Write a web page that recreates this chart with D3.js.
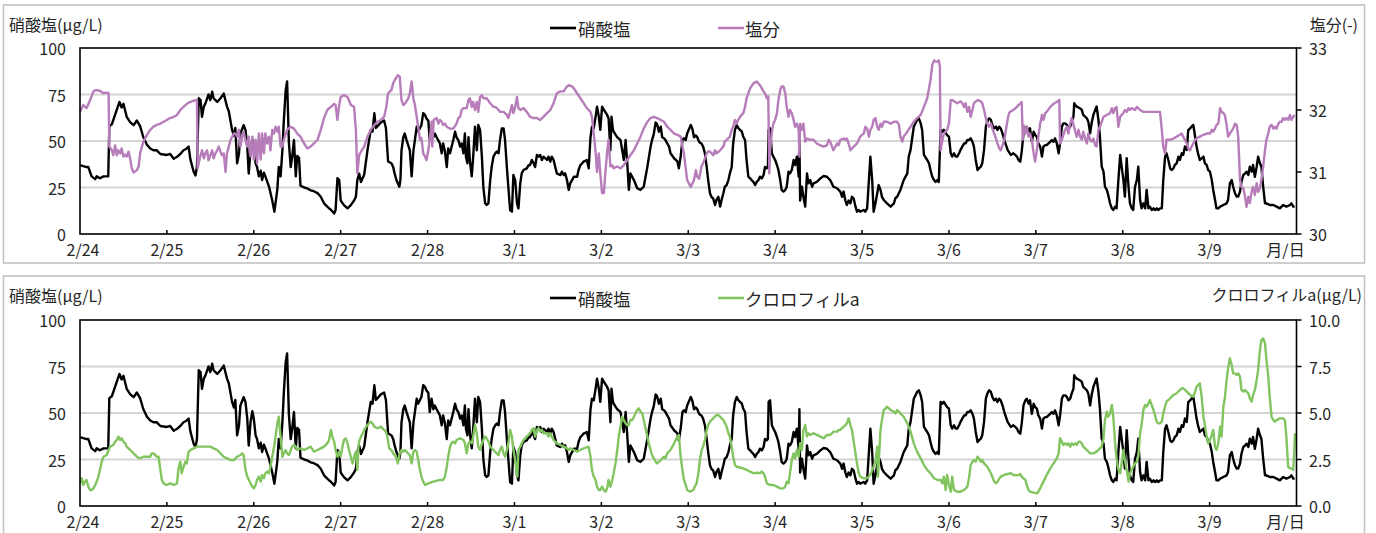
<!DOCTYPE html>
<html><head><meta charset="utf-8">
<script src="https://cdn.jsdelivr.net/npm/d3@7"></script>
<style>
body{margin:0;background:#fff;}
svg{display:block;}
text{font-family:"Noto Sans CJK JP","Noto Sans",sans-serif;fill:#262626;}
</style>
</head><body>
<svg id="c" width="1376" height="533"></svg>
<script>
// ---------- data (hours since 2/24 00:00, value) ----------
const dayLabels = ["2/24","2/25","2/26","2/27","2/28","3/1","3/2","3/3","3/4","3/5","3/6","3/7","3/8","3/9","月/日"];
const nitrateTicks = [0,25,50,75,100];
const salinityTicks = [30,31,32,33];
const chlTicks = [0,2.5,5,7.5,10];

const nitrate = [
[0,37],[1.8,36],[2.3,36],[3.2,31],[4.2,29.5],[4.6,31],[5.5,30],[6.5,31],[7.8,31],[8.1,58],[8.8,59],[10.2,67],[10.9,71],[11.5,68],[12,70],[12.9,63],[13.9,60],[14.8,58.5],[15.7,61],[16.6,58],[17.5,52],[18.5,48],[19.4,46],[20.3,45],[21.2,45],[22.2,43],[24,42.5],[24.9,43],[25.9,40.5],[26.8,41.5],[27.7,43],[28.6,45],[29.5,46],[30,47],[30.5,40],[31.4,33.5],[31.9,31.5],[32.3,36],[32.8,73],[33.3,72],[33.7,63],[34.2,68.5],[34.6,70],[35.5,75],[36,72],[36.5,76.5],[36.9,73],[37.9,71],[38.8,73],[39.7,75.5],[40.6,68.5],[41.1,66],[42,56],[42.5,53],[42.9,57],[43.4,38],[43.9,43],[44.3,54],[45.2,58.5],[45.7,56],[46.2,47],[46.6,32.5],[47.1,45],[47.6,51],[48,47],[48.5,38],[48.9,36],[49.4,31],[49.9,34],[50.3,29],[50.8,33],[51.2,31],[52.2,25.5],[53.1,18],[53.7,12],[54.5,24],[54.9,36],[55.4,31],[55.9,45],[56.3,61],[56.8,77],[57.2,82],[57.7,49],[58.2,36],[58.6,41.5],[59.1,50.5],[59.6,31],[60,42],[60.5,41],[60.9,26],[61.9,25],[62.8,24.5],[63.7,23.5],[64.6,23],[65.6,22],[66.5,20],[67.4,16.5],[68.3,14.7],[69.3,13],[70.2,11],[70.6,13],[71.1,30],[71.6,29],[72,18],[72.9,15.5],[73.9,13.8],[74.8,15.5],[75.7,18],[76.2,20],[76.6,29],[77.1,32.5],[77.6,28],[78.5,32],[79.4,45],[80.3,56],[80.8,55],[81.3,65],[81.7,57],[82.2,58],[83.1,60],[84,61],[84.5,57],[85.1,39],[86,38],
[86.5,36],[86.9,32.6],[87.4,29],[88.2,25.4],[88.5,29],[88.8,45],[89.3,52],[89.7,54],[90.2,50.5],[90.6,48],[91.1,45],[91.6,31],[92.1,45],[92.5,50.5],[93,57.7],[93.4,55],[94.3,58.6],[94.8,65],[95.3,64],[95.7,62],[96.2,61],[96.6,50.5],[97.1,57.7],[97.6,52],[98,54],[98.5,52],[99.4,48.7],[99.9,43.4],[100.3,48.7],[100.8,44.3],[101.3,36],[101.7,46],[102.2,43.4],[103.1,50.5],[103.6,55],[104,52],[104.5,50.5],[105,47],[105.4,48.7],[105.9,43.4],[106.3,54],[106.6,41.6],[107,38],[107.3,52],[107.7,39],[108.2,31],[108.6,41.6],[109.1,57.7],[109.6,45],[110,58.6],[110.5,56],[111,41.6],[111.4,25.4],[111.9,16.5],[112.3,15.6],[112.8,16.5],[113.3,29],[113.7,36],[114.2,41.6],[114.7,43.4],[115.1,44.3],[115.6,43.4],[116,50.5],[116.5,56.8],[117,56.8],[117.4,50.5],[117.9,36],[118.3,25.4],[118.8,12.9],[119.3,12],[119.7,31.7],[120.2,29],[120.7,16.5],[121.1,13.8],[121.6,27.2],[122,32.6],[122.5,34.4],[123.4,35.3],[123.9,37],[124.3,37],[124.8,39.8],[125.3,38],[125.7,36],[126.2,42.5],[126.7,41.6],[127.1,42.5],[127.6,39.8],[128,41.6],[129,39.8],[129.4,41.6],[129.9,38.9],[130.3,41.6],[130.8,39.8],[131.7,32.6],[132.7,31.7],[133.1,33.5],[133.6,31.7],[134,32.6],[134.5,29],[135,23.7],[135.4,27.2],[135.9,29],[136.4,30.8],[137.3,30.8],[137.7,34.4],[138.2,37],[138.7,38],[139.1,38.9],[140,39.8],[140.5,35.3],[141,52],[141.4,57.7],[141.9,56.8],[142.4,63],[142.8,68.5],[143.3,63],[143.7,56],[144.2,68.5],[144.7,66.7],[145.6,64],[146,62],[146.5,45],[146.8,63],[147.2,56],[147.4,55],[148.4,52],[149.3,50.5],[150.2,39.8],[150.7,50.5],[151.1,39.8],[151.6,23.7],[152,32.6],[153,29],[153.9,24.6],[154.8,23.7],[155.7,25.4],[156.7,36],[157.6,47],[158,50.5],[158.5,54],[159,60],[159.4,59],[159.9,55],[160.4,57.7],[160.8,52],[161.3,51.5],[161.7,50.5],[162.2,48.7],[162.7,47],[163.1,43.4],[164.1,40.7],[165,39],[165.4,35.3],[165.9,41.6],[166.4,50.5],[166.8,51.5],[167.3,50.5],[167.7,54],[168.7,58.6],[169.1,56.8],[169.6,52],[170.1,53],[170.5,52],[171,49.5],
[171.7,48.5],[172.1,47],[172.6,43.4],[173.1,36],[173.5,29],[174,21.9],[174.4,20],[174.9,19],[175.4,15.6],[175.8,18.3],[176.3,20],[176.8,14.7],[177.2,18.3],[177.7,21.9],[178.1,25.4],[178.6,26.3],[179.1,29],[179.5,32.6],[180,36],[180.4,48.7],[180.9,56],[181.4,58.6],[181.8,57],[182.3,56],[182.8,55],[183.2,52.3],[183.7,50.5],[184.1,39.8],[184.6,30.8],[185.1,29.9],[185.5,29],[186,28],[186.5,26.3],[186.9,28],[187.4,29],[187.8,30.8],[188.3,29.9],[188.8,31.7],[189.2,36],[189.7,35.3],[190,36],[190.2,56],[190.6,56.8],[191.1,43.4],[191.5,41.6],[192,39.8],[192.5,37.1],[192.9,34.4],[193.4,29],[193.8,23.7],[194.3,22.8],[194.8,23.7],[195.2,25.4],[195.7,33.5],[196.1,32.6],[196.6,34.4],[197.1,39.8],[197.5,37.1],[198,41.6],[198.5,30.8],[198.7,52],[198.9,18],[199.4,25.4],[199.8,20],[200.3,14.7],[200.8,32.6],[201.2,27.2],[201.7,29],[202.2,25.4],[202.6,27.2],[203.5,28],[204.5,29.9],[205.4,31.2],[206.3,30.8],[207.2,29],[208.1,25.4],[209.1,24.6],[210,22.8],[210.5,20],[210.9,22.8],[211.4,18],[211.8,15.6],[212.3,18],[212.8,16.5],[213.2,20],[213.7,19],[214.2,14.7],[214.6,12],[215.1,12.9],[215.5,12],[216.5,12.9],[216.9,12],[217.4,13.8],[217.9,29],[218.3,41.6],[218.8,29],[219.2,12],[219.7,16.5],[220.2,21.9],[220.6,26.3],[221.1,23.7],[221.5,20],[222,18.3],[222.9,16.5],[223.9,14.7],[224.8,16.5],[225.2,19.2],[225.7,20],[226.6,23.7],[227.5,29],[228.5,32.6],[228.9,41.6],[229.4,45.2],[229.9,52.3],[230.3,57.7],[231.2,61.3],[231.7,62.2],[232.2,59.5],[232.6,55.9],[233.1,42.5],[234,39.8],[234.5,38],[234.9,34.4],[235.4,30.8],[235.9,29],[236.3,28],[236.8,29],[237.2,28],[237.7,56],[238.2,55],[238.6,56],[239.5,53.2],[240,52.3],[240.5,43.4],[240.9,41.6],[241.4,43.4],[241.9,41.6],[242.3,41.6],[242.8,43.4],[243.2,45.2],[243.7,47],[244.2,48.7],[244.6,48.7],[245.1,50.5],[245.6,50.5],[246,51.4],[246.5,49.6],[246.9,47],[247.4,39.8],[247.9,34.4],[248.3,35.3],[248.8,36.2],[249.2,38],[249.7,45.2],[250.2,57.7],[250.6,60.4],[251.1,62.2],[251.6,61.3],[252,58.6],[252.5,56.8],[253,57.7],[253.4,55.9],[253.9,57.7],[254.3,56.8],[254.8,54.1],[255.3,50.5],[256.2,45.2],[257.1,42.5],
[257.8,43.4],[258.3,42.5],[258.8,41.6],[259.2,39.8],[259.7,38.9],[260.1,44.3],[260.6,54.1],[261.1,56.8],[261.5,57.7],[262,55],[262.4,56.8],[262.9,49.6],[263.4,55],[263.8,53.2],[264.3,52.3],[264.7,48.7],[265.2,47],[265.7,41.6],[266.1,47],[266.6,47.8],[267,47.8],[267.5,48.7],[268,49.6],[268.4,50.5],[268.9,49.6],[269.3,51.4],[269.8,48.7],[270.3,43.4],[270.7,48.7],[271.2,57.7],[271.6,59.5],[272.1,59.5],[272.6,58.6],[273,56.8],[273.5,57.7],[273.9,60.4],[274.4,63.1],[274.6,70.3],[274.9,69.4],[275.3,68.5],[276.2,67.6],[276.7,66.7],[277.1,64],[277.6,63.1],[278.1,62.2],[278.5,60.4],[279,54.1],[279.4,59.5],[279.9,64],[280.4,66.7],[280.8,68.5],[281.3,61.3],[281.7,52.3],[282.2,36.2],[282.7,33.5],[283.1,25.4],[283.6,23.7],[284,21],[284.5,16.5],[285,13.8],[285.4,12.9],[285.9,14.7],[286.3,13.8],[286.8,29],[287.3,42.5],[287.7,36.2],[288.2,29],[288.6,20.1],[289.1,40.7],[289.6,25.4],[290,16.5],[290.5,13.8],[290.9,12.9],[291.4,25.4],[291.9,29],[292.3,36.2],[292.8,18.3],[293.2,13.8],[293.7,16.5],[294.2,13.8],[294.6,23.7],[295.1,13.8],[295.5,14.7],[296,12.9],[296.5,13.8],[296.9,12.9],[297.4,13.8],[297.8,12.9],[298.3,13.8],[298.8,13.8],[299.2,29],[299.7,41.6],[300.1,43.4],[300.6,39.8],[301.1,35.3],[301.5,34.4],[302,35.3],[302.4,37.1],[302.9,38],[303.4,41.6],[303.8,39.8],[304.3,43.4],[304.7,42.5],[305.2,47],[305.7,45.2],[306.1,55.9],[306.6,56.8],[307,57.7],[307.5,58.6],[308,52.3],[308.4,47],[308.9,42.5],[309.3,39.8],[309.8,40.7],[310.3,41.6],[310.7,38],[311.2,37.1],[311.6,34.4],[312.1,33.5],[312.6,29],[313,23.7],[313.5,18.3],[313.9,13.8],[314.4,13.8],[314.9,14.7],[315.8,15.6],[316.7,16.5],[317.1,18.3],[317.6,27.2],[318.1,29],[318.5,25.4],[319,21.9],[319.5,20.1],[319.9,20.1],[320.4,22.8],[320.8,28.1],[321.3,31.7],[321.8,32.6],[322.2,33.5],[322.7,31.7],[323.1,36.2],[323.6,33.5],[324,37.1],[324.5,30.8],[325,36.2],[325.4,41.6],[325.9,38],[326.3,36.2],[326.8,25.4],[327.3,16.5],[327.7,16.5],[328.6,15.6],[329.6,15.6],[330.5,14.7],[331.4,13.8],[332.3,15.6],[333.2,14.7],[334.2,15.6],[334.6,16.5],[335.1,14.7],[335.5,14.7]
];

const salinity = [
[0,31.97],[0.9,32.08],[1.8,32.03],[2.8,32.16],[3.7,32.3],[4.2,32.32],[5.5,32.31],[6.5,32.27],[7.4,32.28],[7.9,32.27],[8.1,31.41],[8.8,31.35],[9.2,31.27],[9.7,31.43],[10.2,31.27],[10.6,31.35],[11.1,31.3],[11.5,31.38],[12,31.25],[12.5,31.28],[12.9,31.25],[13.4,31.33],[13.9,31.2],[14.3,31.06],[14.8,30.99],[15.7,31.03],[16.2,31.09],[16.6,31.3],[17.5,31.49],[18.5,31.6],[19.4,31.68],[20.3,31.73],[21.2,31.76],[22.2,31.78],[23.1,31.81],[24,31.84],[24.9,31.87],[25.9,31.89],[26.8,31.92],[27.7,32.0],[28.6,32.05],[29.5,32.1],[30.5,32.13],[31.9,32.16],[32.3,32.16],[32.5,31.06],[33.2,31.25],[33.7,31.35],[34.2,31.22],[34.6,31.3],[35.1,31.35],[35.5,31.19],[36,31.27],[36.5,31.35],[36.9,31.22],[37.4,31.3],[37.9,31.35],[38.3,31.41],[38.8,31.33],[39.2,31.27],[39.7,31.3],[40.2,31.0],[40.6,31.3],[41.6,31.52],[42.5,31.62],[42.9,31.62],[43.4,31.57],[43.9,31.68],[44.3,31.41],[44.8,31.57],[45.2,31.65],[45.7,31.52],[46.2,31.41],[46.6,31.57],[47.1,31.25],[47.6,31.57],[48,31.2],[48.5,31.52],[48.9,31.14],[49.4,31.62],[49.9,31.2],[50.3,31.62],[50.8,31.3],[51.2,31.62],[51.7,31.46],[52.2,31.57],[52.6,31.35],[53.1,31.68],[53.6,31.62],[54,31.73],[54.5,31.65],[54.9,31.73],[55.4,31.41],[55.9,31.41],[56.3,31.52],[57.2,31.68],[58.2,31.73],[59.1,31.7],[60,31.62],[60.9,31.57],[61.9,31.46],[62.8,31.38],[63.7,31.41],[64.6,31.46],[65.6,31.52],[66.5,31.68],[67.4,31.87],[68.3,32.0],[69.3,32.05],[70.2,32.1],[70.6,32.08],[71.1,31.84],[71.6,32.08],[72,32.21],[72.9,32.24],[73.9,32.21],[74.8,32.08],[75.7,32.05],[76.2,31.68],[76.6,30.98],[77.1,31.27],[77.6,31.33],[78.5,31.41],[79.4,31.57],[80.3,31.68],[81.3,31.76],[82.2,31.81],[83.1,31.84],[84,31.89],[84.6,32.05],[85.1,32.27],
[86,32.32],[86.5,32.43],[86.9,32.48],[87.8,32.56],[88.3,32.54],[88.8,32.16],[89.3,32.08],[89.7,32.1],[90.6,32.18],[91.1,32.27],[91.6,32.46],[92.1,32.18],[92.5,32.08],[93,31.89],[93.4,31.73],[93.9,31.52],[94.3,31.55],[94.8,31.3],[95.3,31.25],[95.7,31.19],[96.2,31.35],[96.6,31.52],[97.1,31.81],[97.3,31.41],[97.7,31.84],[98.5,31.87],[99,31.78],[99.4,31.84],[99.9,31.81],[100.3,31.76],[100.8,31.78],[101.3,31.73],[102.2,31.7],[103.1,31.7],[104,31.78],[104.5,31.87],[105,31.89],[105.4,32.0],[105.9,32.03],[106.8,32.03],[107.3,32.16],[107.7,32.19],[108.2,32.05],[108.6,32.13],[109.1,32.0],[109.6,32.13],[110,31.97],[110.5,32.21],[111,32.24],[111.4,32.19],[112.3,32.19],[113.3,32.11],[114.2,32.05],[114.7,32.05],[115.1,32.03],[115.6,32.0],[116,31.97],[117,31.97],[117.9,31.92],[118.3,31.87],[118.8,31.97],[119.3,32.08],[119.7,31.95],[120.2,32.05],[120.7,32.21],[121.1,32.03],[121.6,32.0],[122.5,32.03],[123.4,31.97],[124.3,31.89],[125.3,31.87],[126.2,31.87],[127.1,31.84],[128,31.89],[129,31.95],[129.9,32.0],[130.8,32.11],[131.7,32.27],[132.7,32.3],[133.6,32.3],[134.5,32.38],[135,32.4],[135.9,32.38],[136.4,32.35],[137.3,32.27],[138.2,32.19],[139.1,32.11],[140,32.03],[140.5,32.0],[141,31.97],[141.4,31.89],[141.9,31.62],[142.4,31.33],[142.8,31.0],[143.3,31.3],[143.7,30.98],[144.2,30.66],[144.7,30.66],[145.1,30.98],[145.6,31.33],[146,31.52],[146.5,31.09],[147,31.11],[147.4,31.06],[148.4,31.09],[149.3,31.06],[150.2,31.11],[151.1,31.19],[152,31.27],[153,31.35],[153.9,31.46],[154.8,31.57],[155.7,31.7],[156.7,31.81],[157.6,31.87],[158.5,31.89],[159.4,31.87],[160.4,31.84],[161.3,31.81],[162.2,31.73],[163.1,31.68],[164.1,31.62],[165,31.6],[165.9,31.57],[166.4,31.41],[166.8,31.3],[167.7,30.87],[168.7,30.76],[169.6,30.87],[170.1,31.03],[170.5,30.92],[171,30.89],
[171.7,31.1],[172.1,31.14],[173.1,31.3],[173.5,31.33],[174,31.33],[174.9,31.27],[175.4,31.35],[175.8,31.3],[176.8,31.35],[177.7,31.41],[178.1,31.49],[178.6,31.52],[179.5,31.57],[180,31.68],[180.4,31.73],[180.9,31.84],[181.4,31.78],[181.8,31.84],[182.3,31.89],[183.2,31.95],[183.7,32.05],[184.1,32.19],[185.1,32.35],[186,32.43],[186.9,32.46],[187.8,32.4],[188.8,32.3],[189.2,32.27],[189.7,32.19],[190.1,32.22],[190.4,30.98],[190.6,31.35],[191.1,31.65],[191.5,31.78],[192,31.84],[192.5,31.95],[192.9,32.16],[193.4,32.32],[193.8,32.38],[194.3,32.38],[194.8,32.27],[195.2,32.05],[195.7,31.89],[196.1,32.0],[196.6,31.95],[197.1,31.84],[197.5,31.73],[198,31.78],[198.5,31.68],[198.7,31.25],[198.9,31.78],[199.4,31.68],[199.8,31.78],[200.3,31.49],[200.8,31.54],[201.7,31.52],[202.6,31.52],[203.5,31.46],[204.5,31.43],[205.4,31.41],[206.3,31.43],[206.8,31.52],[207.2,31.49],[208.1,31.35],[209.1,31.46],[209.5,31.43],[210,31.52],[210.9,31.54],[211.4,31.52],[211.8,31.54],[212.3,31.46],[212.8,31.35],[213.7,31.41],[214.6,31.46],[215.5,31.57],[216,31.6],[216.5,31.62],[216.9,31.73],[217.4,31.7],[217.9,31.57],[218.3,31.68],[218.8,31.73],[219.2,31.84],[219.7,31.87],[220.2,31.73],[220.6,31.68],[221.1,31.78],[221.5,31.73],[222,31.81],[222.9,31.81],[223.9,31.78],[224.8,31.81],[225.7,31.81],[226.2,31.76],[226.6,31.57],[227.1,31.49],[227.5,31.57],[228.5,31.65],[229.4,31.73],[230.3,31.81],[231.2,31.87],[232.2,31.92],[233.1,32.05],[234,32.19],[234.9,32.48],[235.4,32.73],[235.9,32.8],[236.3,32.78],[236.8,32.78],[237.2,32.8],[237.5,32.7],[237.7,31.35],[238.2,31.52],[238.6,31.62],[239.5,31.68],[240,31.78],[240.5,32.16],[240.9,32.16],[241.4,32.14],[242.3,32.11],[243.2,32.14],[243.7,32.11],[244.2,32.05],[244.6,32.11],[245.1,31.97],[245.6,32.05],[246,31.89],[246.5,32.0],[246.9,32.11],[247.9,32.16],[248.8,32.14],[249.2,32.11],[249.7,32.0],[250.2,31.87],[250.6,31.78],[251.1,31.73],[251.6,31.78],[252,31.7],[252.5,31.62],[253,31.54],[253.4,31.46],[253.9,31.38],[254.3,31.35],[255.3,31.52],[256.2,31.84],[256.6,31.95],
[256.9,31.97],[257.8,32.0],[258.8,32.05],[259.2,32.08],[259.7,32.1],[260.1,32.13],[260.4,31.52],[260.6,31.76],[261.1,31.62],[261.5,31.73],[262,31.57],[262.4,31.62],[262.9,31.52],[263.4,31.3],[263.8,31.17],[264.3,31.35],[264.7,31.57],[265.2,31.78],[265.7,31.92],[266.1,31.84],[266.6,31.95],[267,31.97],[268,32.05],[268.9,32.1],[269.8,32.13],[270.5,32.16],[270.7,31.46],[271.2,31.52],[271.6,31.6],[272.1,31.68],[272.6,31.73],[273,31.62],[273.5,31.78],[273.9,31.87],[274.4,31.76],[274.9,31.65],[275.3,31.57],[275.8,31.68],[276.2,31.57],[276.7,31.52],[277.1,31.65],[277.6,31.54],[278.1,31.46],[278.5,31.62],[279,31.52],[279.4,31.49],[279.9,31.54],[280.4,31.43],[280.8,31.41],[281.3,31.68],[281.7,31.73],[282.2,31.81],[282.7,31.89],[283.6,31.92],[284.5,31.95],[285,32.03],[285.4,31.95],[285.9,32.03],[286.3,32.05],[286.8,31.73],[287.3,31.89],[287.7,31.92],[288.2,31.95],[288.6,32.0],[289.1,31.97],[289.6,32.03],[290,32.0],[290.5,32.03],[291.4,32.0],[291.9,32.05],[292.8,32.0],[293.7,31.97],[294.6,31.97],[296.5,31.97],[298.3,31.97],[298.8,31.68],[299.2,31.41],[299.7,31.3],[300.1,31.52],[301.1,31.52],[302,31.54],[302.9,31.57],[303.8,31.6],[304.3,31.62],[304.7,31.57],[305.7,31.46],[306.1,31.38],[306.6,31.35],[307,31.41],[307.5,31.46],[308,31.52],[308.4,31.54],[309.3,31.57],[310.3,31.6],[311.2,31.62],[312.1,31.62],[312.6,31.68],[313,31.65],[313.5,31.7],[313.9,31.76],[314.4,31.78],[314.9,32.03],[315.3,31.97],[315.8,31.95],[316.2,31.92],[316.7,31.76],[317.1,31.57],[317.6,31.62],[318.5,31.7],[319,31.78],[319.5,31.76],[319.9,31.57],[320.4,30.87],[320.8,30.76],[321.3,30.74],[321.8,30.6],[322.2,30.44],[322.7,30.6],[323.1,30.5],[323.6,30.68],[324,30.76],[324.5,30.63],[325,30.82],[325.4,30.68],[325.9,30.74],[326.3,30.87],[326.8,31.09],[327.3,31.35],[327.7,31.52],[328.2,31.62],[328.6,31.73],[329.1,31.76],[329.6,31.7],[330,31.73],[330.5,31.7],[331,31.78],[331.4,31.81],[331.9,31.81],[332.3,31.87],[332.8,31.84],[333.2,31.87],[333.7,31.84],[334.2,31.92],[334.6,31.84],[335.1,31.89],[335.5,31.92]
];

const chlorophyll = [
[0,1.22],[0.5,1.49],[0.9,1.13],[1.4,1.31],[1.8,1.4],[2.3,1.04],[2.8,0.86],[3.2,0.86],[3.7,0.95],[4.2,1.13],[4.6,1.31],[5.1,1.58],[5.5,1.94],[6,2.38],[6.5,2.65],[7.4,2.74],[7.9,3.01],[8.3,3.19],[9.2,3.28],[9.7,3.46],[10.2,3.55],[10.6,3.73],[11.1,3.55],[11.5,3.64],[12,3.46],[12.5,3.37],[12.9,3.19],[13.9,3.01],[14.8,2.83],[15.7,2.65],[16.6,2.56],[17.5,2.65],[18.5,2.65],[19.4,2.65],[19.8,2.83],[20.3,2.83],[21.2,2.65],[21.7,2.65],[22.2,1.94],[22.6,1.4],[23.1,1.22],[24,1.13],[24.9,1.22],[25.9,1.13],[26.8,1.22],[27.2,2.02],[27.7,2.38],[28.1,1.76],[28.6,2.11],[29.1,2.38],[29.5,2.29],[30,2.92],[30.5,3.01],[31.4,3.1],[32.3,3.19],[33.2,3.19],[34.2,3.19],[35.1,3.19],[36,3.19],[36.9,3.1],[37.9,3.01],[38.8,2.83],[39.7,2.65],[40.6,2.56],[41.6,2.47],[42.5,2.47],[43.4,2.65],[44.3,2.74],[44.8,2.83],[45.2,2.74],[45.7,1.94],[46.2,1.58],[47.1,1.22],[47.6,1.04],[48,0.95],[48.5,1.13],[48.9,1.4],[49.4,1.58],[49.9,1.31],[50.3,1.67],[50.8,1.49],[51.2,1.76],[51.7,1.85],[52.2,1.76],[52.6,2.11],[53.1,2.65],[53.6,3.19],[54,3.73],[54.5,4.44],[54.9,4.8],[55.4,3.73],[55.9,2.65],[56.3,2.83],[56.8,3.01],[57.2,2.83],[57.7,2.74],[58.2,3.01],[58.6,3.19],[59.1,3.28],[59.6,3.19],[60,3.01],[60.9,3.1],[61.9,3.01],[62.8,3.1],[63.7,3.19],[64.6,2.92],[65.6,3.01],[66.5,3.1],[67.4,3.19],[68.3,3.37],[68.8,3.55],[69.3,4.09],[69.7,3.73],[70.2,3.46],[70.6,3.01],[71.1,2.65],[71.6,2.92],[72,2.65],[72.5,3.19],[72.9,3.55],[73.4,3.64],[73.9,3.37],[74.3,3.01],[74.8,2.65],[75.3,2.29],[75.7,2.65],[76.2,2.92],[76.6,1.94],[76.9,3.19],[77.1,3.46],[77.6,3.73],[78.1,3.91],[78.5,4.09],[79.4,4.36],[80.3,4.53],[80.8,4.44],[81.3,4.27],[82.2,4.18],[83.1,4.27],[83.5,4.18],[84,4.09],[84.5,4.0],[84.9,3.73],[85.4,3.1],
[86,3.01],[86.5,2.83],[86.9,2.74],[87.4,2.56],[87.8,2.29],[88.3,2.83],[88.8,3.01],[89.3,2.92],[89.7,3.01],[90.2,2.92],[90.6,2.83],[91.1,2.74],[91.6,2.29],[92.1,2.92],[92.5,3.01],[93,2.92],[93.4,2.47],[93.9,1.94],[94.3,1.58],[94.8,1.31],[95.3,1.13],[96.2,1.22],[97.6,1.31],[99.4,1.4],[100.3,1.4],[100.8,1.58],[101.3,2.11],[101.7,2.65],[102.2,3.19],[102.6,3.37],[103.1,3.46],[103.6,3.37],[104,3.55],[105,3.64],[105.9,3.55],[106.3,3.37],[106.8,2.83],[107.3,3.37],[107.7,3.46],[108.2,3.37],[108.6,3.73],[109.1,4.36],[109.6,3.91],[110,3.19],[110.5,3.01],[111,3.37],[111.4,3.55],[111.9,3.73],[112.3,3.64],[112.8,3.46],[113.3,3.19],[114.2,3.01],[115.1,2.83],[115.6,2.74],[116,3.01],[116.5,3.19],[117,2.83],[117.4,2.65],[117.9,3.01],[118.3,3.37],[118.8,4.09],[119.3,3.73],[119.7,3.01],[120.2,2.47],[120.7,1.67],[120.8,1.58],[121.1,3.01],[121.6,3.19],[122,3.37],[122.5,3.55],[123.4,3.73],[124.3,3.91],[124.8,4.09],[125.3,4.18],[125.7,3.73],[126.2,4.09],[126.7,4.18],[127.1,4.0],[127.6,4.09],[128,3.91],[129,3.91],[129.4,3.73],[129.9,3.91],[130.3,3.73],[130.8,3.55],[131.7,3.37],[132.7,3.28],[133.6,3.19],[134.5,3.1],[135,3.01],[135.4,3.1],[136.4,3.01],[137.3,2.92],[138.2,3.01],[139.1,3.1],[140.5,3.19],[141,2.65],[141.4,1.94],[141.9,1.58],[142.4,1.4],[142.8,1.04],[143.3,0.86],[143.7,0.86],[144.2,1.04],[144.7,0.86],[145.1,0.77],[145.6,0.95],[146,1.4],[146.5,1.04],[147,1.4],[147.4,1.76],[147.9,2.29],[148.4,3.01],[148.8,3.73],[149.3,4.27],[149.7,4.8],[150.2,4.62],[150.7,4.44],[151.1,4.35],[151.6,4.35],[152,4.62],[152.5,4.62],[153,4.8],[153.4,4.98],[153.9,5.16],[154.3,5.25],[154.8,5.07],[155.3,4.98],[155.7,4.62],[156.2,4.18],[156.7,3.73],[157.1,3.37],[157.6,3.01],[158,2.74],[158.5,2.56],[159,2.38],[159.4,2.29],[159.9,2.38],[160.4,2.47],[161.3,2.65],[161.7,2.56],[162.2,2.83],[163.1,3.01],[164.1,3.37],[165,3.73],[165.4,3.82],[165.9,2.65],[166.4,1.94],[166.8,1.4],[167.3,1.13],[167.7,0.86],
[168.5,0.77],[169.4,0.86],[169.8,1.04],[170.3,1.22],[170.8,1.76],[171.2,2.47],[171.7,3.01],[172.1,3.19],[172.6,3.55],[173.1,4.09],[173.5,4.35],[174,4.53],[174.9,4.71],[175.8,4.89],[176.3,4.89],[176.8,4.8],[177.7,4.62],[178.6,4.27],[179.1,3.91],[179.5,3.73],[180,3.19],[180.4,2.65],[180.9,2.2],[181.4,2.11],[182.3,2.07],[183.2,2.02],[184.1,1.94],[185.1,1.85],[186,1.76],[186.9,1.79],[187.8,1.76],[188.3,1.85],[188.8,1.76],[189.2,1.58],[189.7,1.22],[190.6,1.13],[191.5,1.13],[192.5,1.04],[193.4,0.95],[194.3,0.95],[194.8,1.04],[195.2,1.31],[195.7,1.22],[196.1,1.76],[196.6,2.47],[197.1,2.83],[197.5,2.56],[198,3.01],[198.5,2.65],[198.9,3.37],[199.4,3.01],[199.8,4.09],[200.3,4.35],[200.8,3.73],[201.2,3.91],[201.7,3.82],[202.6,3.91],[203.5,3.82],[204.5,3.73],[205.4,3.64],[206.3,3.82],[207.2,3.82],[207.7,3.91],[208.1,4.0],[209.1,4.0],[209.5,4.09],[210,4.09],[210.9,4.27],[211.4,4.35],[211.8,4.44],[212.3,4.71],[212.8,4.35],[213.2,4.09],[213.7,3.46],[214.2,2.83],[214.6,2.29],[215.1,1.76],[215.5,1.58],[216.5,1.49],[217.4,1.49],[218.3,1.67],[218.8,1.94],[219.2,2.11],[219.7,2.38],[220.2,3.19],[220.4,1.58],[220.6,2.29],[221.1,4.09],[221.5,4.62],[222,5.16],[222.5,5.25],[222.9,5.34],[223.4,5.25],[223.9,5.16],[224.8,5.07],[225.2,4.98],[225.7,5.16],[226.2,5.07],[226.6,4.98],[227.5,4.8],[228.5,4.44],[229.4,4.0],[230.3,3.37],[231.2,2.92],[232.2,2.56],[233.1,2.2],[234,1.94],[234.9,1.76],[235.9,1.49],[236.8,1.4],[237.7,1.4],[238.2,1.22],[238.6,1.58],[239.1,0.86],[239.5,1.67],[240,1.13],[240.5,0.77],[240.9,1.58],[241.4,0.86],[242.3,0.77],[243.2,0.77],[244.2,0.86],[245.1,1.04],[245.6,1.58],[246,2.2],[246.5,2.38],[246.9,2.47],[247.4,2.38],[247.9,2.65],[248.3,2.56],[248.8,2.38],[249.2,2.47],[249.7,2.29],[250.6,2.11],[251.6,1.76],[252.5,1.31],[253,1.22],[253.4,1.31],[254.3,1.58],[255.3,1.67],[256.2,1.72],[257.1,1.76],
[257.8,1.67],[258.8,1.65],[259.2,1.67],[259.7,1.72],[260.1,1.58],[260.6,1.49],[261.1,1.4],[261.5,1.13],[262,0.86],[262.4,0.77],[263.4,0.72],[264.3,0.68],[264.7,0.77],[265.2,0.95],[266.1,1.31],[267,1.67],[268,2.02],[268.9,2.29],[269.8,2.56],[270.3,2.83],[270.7,3.64],[271.2,3.46],[271.6,3.28],[272.1,3.37],[272.6,3.28],[273,3.37],[273.5,3.19],[273.9,3.37],[274.4,3.28],[274.9,3.37],[275.3,3.28],[275.8,3.46],[276.2,3.46],[276.7,3.37],[277.1,3.19],[277.6,3.1],[278.1,3.01],[279,2.83],[279.9,2.83],[280.8,2.92],[281.7,3.1],[282.2,3.19],[282.7,3.64],[283.1,4.62],[283.6,5.07],[284,4.8],[284.5,4.98],[285,5.43],[285.4,4.8],[285.9,3.37],[286.3,2.56],[286.8,1.94],[287.3,1.76],[287.7,2.29],[288.2,3.01],[288.6,2.47],[289.1,1.94],[289.6,1.31],[290,1.76],[290.5,1.94],[290.9,2.11],[291.4,2.29],[291.9,2.38],[292.3,2.65],[292.8,3.91],[293.2,4.35],[293.7,5.16],[294.2,5.43],[294.6,5.34],[295.1,5.52],[295.5,5.7],[296,5.43],[296.5,5.16],[296.9,4.89],[297.4,4.53],[297.8,4.44],[298.3,4.44],[298.8,4.53],[299.2,4.98],[299.7,5.34],[300.1,5.61],[301.1,5.79],[302,5.97],[302.9,6.06],[303.8,6.24],[304.3,6.33],[304.7,6.33],[305.2,6.24],[305.7,6.15],[306.6,5.97],[307.5,5.88],[308,6.15],[308.4,6.42],[308.9,6.51],[309.3,6.6],[309.8,5.88],[310.3,4.8],[310.7,4.35],[311.2,3.73],[311.6,3.37],[312.1,3.55],[312.6,3.82],[313,4.09],[313.5,3.19],[313.9,3.01],[314.4,3.37],[314.9,4.27],[315.3,3.73],[315.8,5.34],[316.2,5.79],[316.7,6.78],[317.1,7.4],[317.6,7.94],[318.1,7.58],[318.5,7.13],[319,7.13],[319.5,7.04],[319.9,7.13],[320.4,6.96],[320.8,6.24],[321.3,6.15],[321.8,6.24],[322.2,6.15],[322.7,6.06],[323.1,5.79],[323.6,5.61],[324,5.97],[324.5,6.24],[325,6.78],[325.4,7.31],[325.9,8.39],[326.3,8.92],[326.8,9.01],[327.3,8.74],[327.7,7.85],[328.2,6.96],[328.6,5.88],[329.1,4.8],[329.6,4.62],[330,4.53],[330.5,4.62],[331.4,4.71],[332.3,4.71],[332.8,4.62],[333.2,3.73],[333.7,2.11],[334.2,2.02],[334.6,2.02],[335.1,1.94],[335.4,3.01],[335.6,3.91]
];

// ---------- drawing ----------
const svg = d3.select("#c");
const black = "#000000", purple = "#b77cba", green = "#82c560";
const x = d3.scaleLinear().domain([0, 336]).range([80, 1296.5]);

function drawPanel(p) {
  const g = svg.append("g");
  g.append("rect").attr("x", 3.5).attr("y", p.frameTop).attr("width", 1361).attr("height", p.frameH)
    .attr("fill", "#fff").attr("stroke", "#bfbfbf").attr("stroke-width", 1.5);

  const yL = d3.scaleLinear().domain([0, 100]).range([p.bottom, p.top]);
  const yR = d3.scaleLinear().domain(p.rDomain).range([p.bottom, p.top]);

  // gridlines
  g.selectAll(".grid").data(nitrateTicks.slice(1, -1)).join("line")
    .attr("x1", x(0)).attr("x2", x(336)).attr("y1", d => yL(d)).attr("y2", d => yL(d))
    .attr("stroke", "#d4d4d4").attr("stroke-width", 2);

  // lines
  const lineL = d3.line().x(d => x(d[0])).y(d => yL(d[1]));
  const lineR = d3.line().x(d => x(d[0])).y(d => yR(d[1]));
  g.append("path").datum(nitrate).attr("d", lineL).attr("fill", "none")
    .attr("stroke", black).attr("stroke-width", 2.4).attr("stroke-linejoin", "round");
  g.append("path").datum(p.rData).attr("d", lineR).attr("fill", "none")
    .attr("stroke", p.rColor).attr("stroke-width", 2.4).attr("stroke-linejoin", "round");

  // plot frame
  g.append("rect").attr("x", x(0)).attr("y", p.top).attr("width", x(336) - x(0)).attr("height", p.bottom - p.top)
    .attr("fill", "none").attr("stroke", "#000").attr("stroke-width", 1.6);

  // x ticks (inside)
  g.selectAll(".xt").data(d3.range(1, 14)).join("line")
    .attr("x1", d => x(d * 24)).attr("x2", d => x(d * 24))
    .attr("y1", p.bottom).attr("y2", p.bottom - 4).attr("stroke", "#000").attr("stroke-width", 1.5);
  // right ticks (outside)
  g.selectAll(".rt").data(p.rTicks).join("line")
    .attr("x1", x(336)).attr("x2", x(336) + 5).attr("y1", d => yR(d)).attr("y2", d => yR(d))
    .attr("stroke", "#000").attr("stroke-width", 1.5);

  // left labels
  g.selectAll(".ll").data(nitrateTicks).join("text")
    .attr("x", 66).attr("y", d => yL(d)).attr("text-anchor", "end").attr("dominant-baseline", "central")
    .attr("font-size", 16).text(d => d);
  // right labels
  g.selectAll(".rl").data(p.rTicks).join("text")
    .attr("x", 1309).attr("y", d => yR(d)).attr("text-anchor", "start").attr("dominant-baseline", "central")
    .attr("font-size", 16).text(p.rFmt);
  // x labels
  g.selectAll(".xl").data(dayLabels).join("text")
    .attr("x", (d, i) => i === 14 ? x(336) - 11 : (i === 0 ? x(0) + 3 : x(i * 24)))
    .attr("y", p.bottom + 15)
    .attr("text-anchor", "middle").attr("dominant-baseline", "central")
    .attr("font-size", 16).text(d => d);

  // axis titles
  g.append("text").attr("x", 9).attr("y", p.titleY).attr("dominant-baseline", "central")
    .attr("font-size", 16).text("硝酸塩(μg/L)");
  g.append("text").attr("x", p.rTitleX).attr("y", p.rTitleY).attr("text-anchor", "end").attr("dominant-baseline", "central")
    .attr("font-size", 16).text(p.rTitle);

  // legend
  const ly = p.legendY;
  g.append("line").attr("x1", 550).attr("x2", 576).attr("y1", ly).attr("y2", ly).attr("stroke", black).attr("stroke-width", 2.6);
  g.append("text").attr("x", 578).attr("y", ly).attr("dominant-baseline", "central").attr("font-size", 17.5).text("硝酸塩");
  g.append("line").attr("x1", 718).attr("x2", 744).attr("y1", ly).attr("y2", ly).attr("stroke", p.rColor).attr("stroke-width", 2.6);
  g.append("text").attr("x", 745).attr("y", ly).attr("dominant-baseline", "central").attr("font-size", 17.5).text(p.legendName);
}

drawPanel({frameTop: 5, frameH: 258, top: 48, bottom: 234, rDomain: [30, 33], rTicks: salinityTicks,
  rFmt: d => d, rData: salinity, rColor: purple, rTitle: "塩分(-)", rTitleX: 1358, rTitleY: 24,
  titleY: 24, legendY: 28, legendName: "塩分"});
drawPanel({frameTop: 276, frameH: 270, top: 320, bottom: 506, rDomain: [0, 10], rTicks: chlTicks,
  rFmt: d => d.toFixed(1), rData: chlorophyll, rColor: green, rTitle: "クロロフィルa(μg/L)", rTitleX: 1362, rTitleY: 294,
  titleY: 295, legendY: 298, legendName: "クロロフィルa"});
</script>
</body></html>
